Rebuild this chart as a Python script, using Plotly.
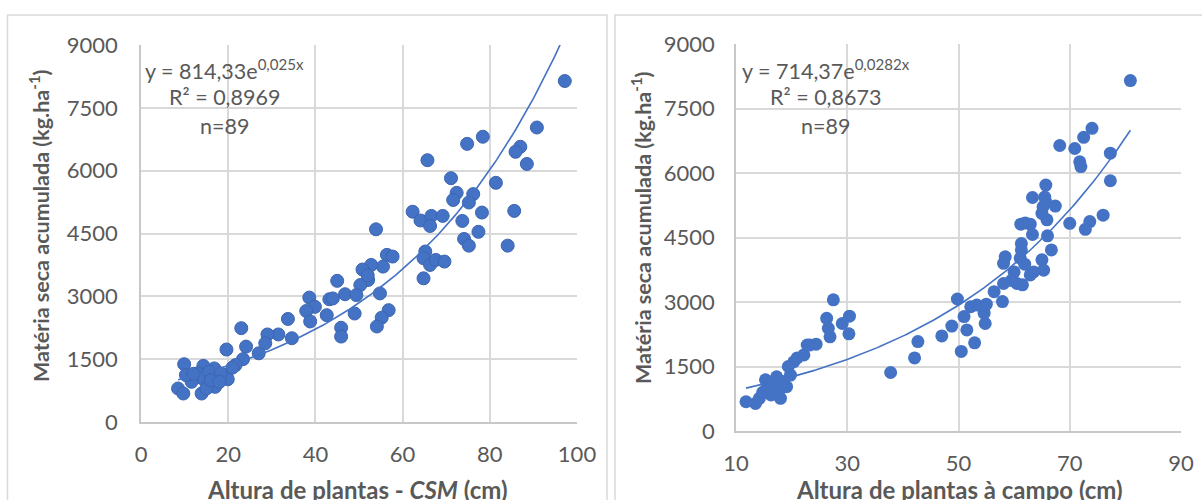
import numpy as np
import plotly.graph_objects as go

W, H = 1202, 500

# ---- Left panel: CSM height vs dry matter ----
csm_x = [97.2, 90.8, 78.4, 74.8, 87.0, 85.9, 88.5, 65.7, 71.1, 81.4,
         72.4, 71.6, 76.2, 75.2, 62.3, 78.2, 85.6, 64.1, 66.6, 66.3,
         69.2, 53.9, 73.7, 77.4, 74.1, 75.2, 84.1, 65.2, 64.8, 66.3,
         67.6, 69.6, 64.8, 56.4, 57.7, 55.5, 52.8, 50.8, 52.1, 50.3,
         45.0, 46.8, 49.4, 54.8, 43.2, 38.6, 39.9, 37.9, 42.6, 49.0,
         56.8, 55.2, 54.1, 45.9, 45.9, 38.8, 33.7, 34.6, 31.5, 29.0,
         28.5, 27.0, 23.0, 24.1, 23.4, 21.7, 19.6, 19.6, 19.9, 16.8,
         17.0, 14.3, 13.0, 14.1, 13.9, 15.0, 11.6, 9.9, 10.3, 8.5,
         9.7, 15.6, 18.3, 12.0, 16.0, 18.0, 21.0, 44.0, 52.0]
csm_y = [8140, 7030, 6810, 6640, 6570, 6450, 6160, 6250, 5820, 5710,
         5470, 5300, 5440, 5240, 5020, 5000, 5040, 4810, 4920, 4680,
         4920, 4600, 4800, 4540, 4370, 4210, 4210, 4070, 3910, 3750,
         3870, 3830, 3430, 3990, 3950, 3710, 3750, 3640, 3390, 3270,
         3370, 3050, 3030, 3070, 2930, 2970, 2750, 2650, 2550, 2590,
         2670, 2490, 2280, 2250, 2040, 2400, 2460, 2000, 2090, 2090,
         1880, 1640, 2240, 1800, 1500, 1360, 1730, 1120, 1020, 1280,
         840, 1340, 1160, 1040, 680, 800, 960, 1380, 1120, 800,
         680, 1200, 1160, 1150, 1000, 960, 1300, 2950, 3500]
csm_a, csm_b = 814.33, 0.025

# ---- Right panel: field height vs dry matter ----
field_x = [80.9, 74.0, 72.5, 68.2, 70.9, 77.3, 71.8, 72.0, 77.3, 65.7,
           63.3, 67.4, 65.7, 65.0, 65.9, 76.0, 70.0, 73.6, 72.8, 61.2,
           62.9, 63.3, 66.0, 61.3, 61.3, 66.7, 58.4, 58.1, 61.1, 61.9,
           62.9, 65.0, 65.3, 58.1, 60.5, 61.5, 56.4, 57.9, 49.8, 55.0,
           54.6, 54.8, 52.2, 51.0, 48.8, 47.0, 51.5, 52.9, 50.5, 42.7,
           42.1, 37.8, 27.5, 30.4, 30.3, 29.1, 26.3, 26.6, 26.9, 24.4,
           22.8, 22.2, 20.4, 19.4, 19.1, 18.0, 15.3, 17.3, 17.0, 16.3,
           14.2, 13.5, 11.8, 14.8, 16.5, 18.5, 19.8, 21.0, 23.3, 17.6,
           15.6, 65.5, 65.2, 62.0, 53.3, 54.6, 60.0, 63.5, 59.5]
field_y = [8150, 7040, 6830, 6640, 6570, 6460, 6260, 6150, 5820, 5720,
           5430, 5230, 5330, 5060, 4910, 5020, 4830, 4870, 4690, 4810,
           4810, 4570, 4540, 4360, 4210, 4210, 4050, 3900, 4020, 3880,
           3630, 3980, 3740, 3430, 3430, 3400, 3240, 3010, 3070, 2950,
           2740, 2500, 2890, 2660, 2440, 2210, 2350, 2050, 1850, 2080,
           1700, 1360, 3050, 2670, 2260, 2500, 2620, 2390, 2190, 2020,
           2000, 1770, 1610, 1500, 1030, 760, 1190, 1260, 990, 840,
           760, 640, 680, 900, 1100, 1150, 1300, 1700, 2000, 880,
           1000, 5440, 5210, 4840, 2930, 2880, 3700, 3700, 3500]
field_a, field_b = 714.37, 0.0282

y_ticks = [0, 1500, 3000, 4500, 6000, 7500, 9000]
x_ticks_left = [0, 20, 40, 60, 80, 100]
x_ticks_right = [10, 30, 50, 70, 90]

BLUE = "#4472C4"
TXT = "#595959"
GRID = "#d9d9d9"
FONT = "Lato"

def px(x):
    return x / W

def py(y):
    return 1 - y / H

fig = go.Figure()

fig.add_trace(go.Scatter(x=csm_x, y=csm_y, mode="markers", xaxis="x", yaxis="y",
                         marker=dict(size=13, color=BLUE, line=dict(color="#3d66b0", width=1)),
                         showlegend=False, hoverinfo="skip"))
xl = np.linspace(min(csm_x), max(csm_x), 200)
fig.add_trace(go.Scatter(x=xl, y=csm_a * np.exp(csm_b * xl), mode="lines", xaxis="x", yaxis="y",
                         line=dict(color=BLUE, width=1.6), showlegend=False, hoverinfo="skip"))

fig.add_trace(go.Scatter(x=field_x, y=field_y, mode="markers", xaxis="x2", yaxis="y2",
                         marker=dict(size=13, color=BLUE, line=dict(width=0)),
                         showlegend=False, hoverinfo="skip"))
xr = np.linspace(min(field_x), max(field_x), 200)
fig.add_trace(go.Scatter(x=xr, y=field_a * np.exp(field_b * xr), mode="lines", xaxis="x2", yaxis="y2",
                         line=dict(color=BLUE, width=1.6), showlegend=False, hoverinfo="skip"))

tickfont = dict(family=FONT, size=22, color=TXT)
common_x = dict(showgrid=True, gridcolor=GRID, gridwidth=1.5, zeroline=False,
                showline=True, linecolor="#c8c8c8", linewidth=1.5, ticks="",
                tickfont=tickfont, ticklabelstandoff=12, fixedrange=True, automargin=False)
common_y = dict(showgrid=True, gridcolor=GRID, gridwidth=1.5, zeroline=False,
                showline=True, linecolor="#c8c8c8", linewidth=1.5, ticks="",
                tickfont=tickfont, fixedrange=True, automargin=False,
                tickmode="array", tickvals=y_ticks, range=[0, 9000])

fig.update_layout(
    width=W, height=H, margin=dict(l=0, r=0, t=0, b=0, autoexpand=False),
    paper_bgcolor="white", plot_bgcolor="white",
    xaxis=dict(domain=[px(141), px(577)], range=[0, 100], tickmode="array",
               tickvals=x_ticks_left, anchor="y", **common_x),
    yaxis=dict(domain=[py(422), py(45)], anchor="x", ticklabelstandoff=17, **common_y),
    xaxis2=dict(domain=[px(736), px(1181)], range=[10, 90], tickmode="array",
                tickvals=x_ticks_right, anchor="y2", **common_x),
    yaxis2=dict(domain=[py(431), py(44)], anchor="x2", ticklabelstandoff=15, **common_y),
)

fig.add_shape(type="rect", xref="paper", yref="paper", x0=px(7.5), x1=px(607), y0=py(505), y1=py(15),
              line=dict(color=GRID, width=1.5), layer="below")
fig.add_shape(type="rect", xref="paper", yref="paper", x0=px(615), x1=px(1210), y0=py(505), y1=py(15),
              line=dict(color=GRID, width=1.5), layer="below")

anns = []
def ann(x, y, text, size=21.5, angle=0, xanchor="center"):
    anns.append(dict(x=px(x), y=py(y), xref="paper", yref="paper", text=text, showarrow=False,
                     textangle=angle, xanchor=xanchor, yanchor="middle",
                     font=dict(family=FONT, size=size, color=TXT)))

ann(224, 69, "y = 814,33e<sup>0,025x</sup>")
ann(224, 97, "R² = 0,8969")
ann(224, 126, "n=89")
ann(826, 69, "y = 714,37e<sup>0,0282x</sup>")
ann(826, 97, "R² = 0,8673")
ann(826, 126, "n=89")

ann(40, 226, "<b>Matéria seca acumulada (kg.ha<sup>-1</sup>)</b>", size=21.5, angle=-90)
ann(642, 228, "<b>Matéria seca acumulada (kg.ha<sup>-1</sup>)</b>", size=21.5, angle=-90)
ann(357, 489, "<b>Altura de plantas - <i>CSM</i> (cm)</b>", size=24)
ann(959, 489, "<b>Altura de plantas à campo (cm)</b>", size=24)

fig.update_layout(annotations=anns)
fig.write_html("out.html")
